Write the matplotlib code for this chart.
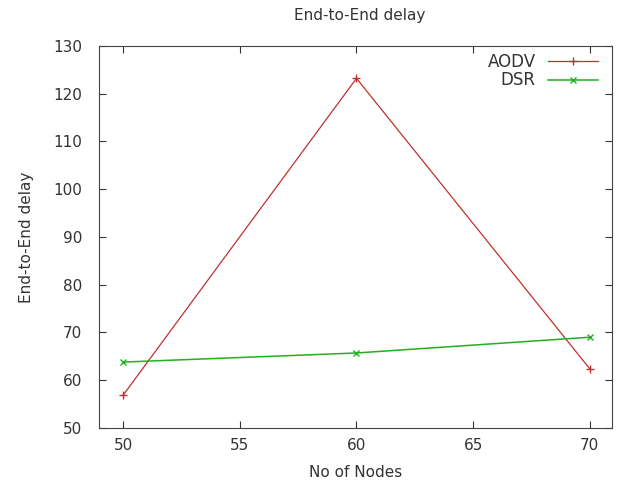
import matplotlib
matplotlib.use('Agg')
import matplotlib.pyplot as plt

nodes = [50, 60, 70]
aodv = [56.9, 123.2, 62.4]
dsr = [63.8, 65.7, 69.0]

fig = plt.figure(figsize=(6.25, 4.88), dpi=100)
ax = fig.add_axes([0.158, 0.123, 0.821, 0.783])

ax.plot(nodes, aodv, color='#c03030', lw=0.9, marker='+', ms=6, mew=1.0, label='AODV')
ax.plot(nodes, dsr, color='#20b020', lw=1.1, marker='x', ms=5, mew=1.0, label='DSR')

ax.set_xlim(48.95, 70.95)
ax.set_ylim(50, 130)
ax.set_xticks([50, 55, 60, 65, 70])
ax.set_yticks(range(50, 131, 10))
ax.tick_params(direction='in', top=True, right=True, length=5, labelsize=11, colors='#333333')
ax.tick_params(axis='y', pad=12)
ax.tick_params(axis='x', pad=7)
for s in ax.spines.values():
    s.set_color('#444444')

ax.set_xlabel('No of Nodes', fontsize=11, color='#333333', labelpad=9)
ax.set_ylabel('End-to-End delay', fontsize=11, color='#333333', labelpad=14)
fig.text(0.575, 0.968, 'End-to-End delay', ha='center', va='center', fontsize=11, color='#333333')

leg = ax.legend(loc='upper right', frameon=False, markerfirst=False, fontsize=12,
                handlelength=3, borderaxespad=0.0, labelspacing=0.05, handletextpad=0.7,
                bbox_to_anchor=(0.985, 1.0))
for t in leg.get_texts():
    t.set_ha('right')
    t.set_color('#333333')

fig.savefig('out.png')
